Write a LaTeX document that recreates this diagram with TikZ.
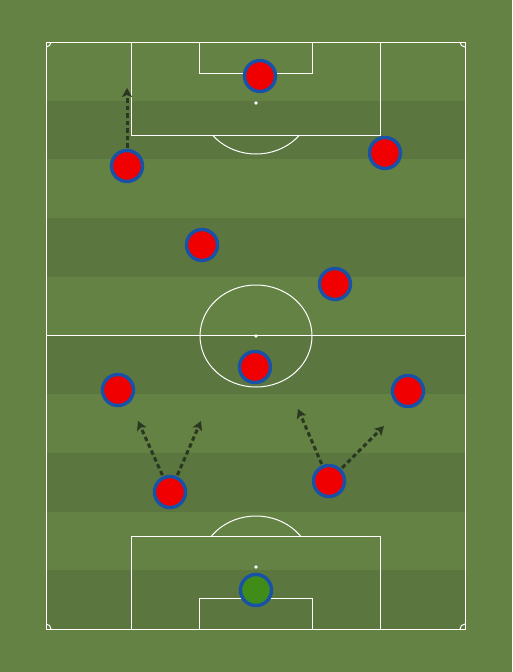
\documentclass[tikz,border=0pt]{standalone}
\usetikzlibrary{arrows.meta,positioning,shadows}
\definecolor{grass}{RGB}{100,130,68}
\definecolor{grassdark}{RGB}{91,118,63}
\definecolor{shirt}{RGB}{240,0,0}
\definecolor{ring}{RGB}{24,82,168}
\definecolor{keeper}{RGB}{64,140,24}
\definecolor{runline}{RGB}{42,56,34}

\begin{document}
\begin{tikzpicture}[x=1pt, y=-1pt,
    player/.style={circle, draw=ring, line width=3.4pt, fill=shirt,
        minimum size=31pt, inner sep=0pt, outer sep=3pt,
        drop shadow={opacity=0.25, shadow xshift=0.8pt, shadow yshift=-0.8pt}},
    pline/.style={white, line width=1pt},
    run/.style={runline, line width=3pt, dash pattern=on 4.5pt off 3pt,
        -{Stealth[length=9pt, width=10pt, inset=2pt]}}]
    % Grass and stripes
    \fill[grass] (0,0) rectangle (512,672);
    \foreach \i in {1,3,5,7,9}
        \fill[grassdark] (46,{42+\i*58.7}) rectangle (465,{42+(\i+1)*58.7});

    % Pitch markings
    \draw[pline] (46,42) rectangle (465,629);
    \draw[pline] (46,335.5) -- (465,335.5);
    \draw[pline] (256,336) ellipse [x radius=56, y radius=51];
    \fill[white] (256,336) circle (1.8);

    % Top boxes
    \draw[pline] (131,42) -- (131,135) -- (380,135) -- (380,42);
    \draw[pline] (199,42) -- (199,73) -- (312,73) -- (312,42);
    \fill[white] (256,103) circle (1.8);
    \begin{scope}
        \clip (131,135) rectangle (380,200);
        \draw[pline] (256,103) ellipse [x radius=56, y radius=51];
    \end{scope}

    % Bottom boxes
    \draw[pline] (131,629) -- (131,536) -- (380,536) -- (380,629);
    \draw[pline] (199,629) -- (199,598) -- (312,598) -- (312,629);
    \fill[white] (256,567) circle (1.8);
    \begin{scope}
        \clip (131,470) rectangle (380,536);
        \draw[pline] (256,567) ellipse [x radius=56, y radius=51];
    \end{scope}

    % Corner arcs
    \begin{scope}
        \clip (46,42) rectangle (465,629);
        \foreach \cx/\cy in {46/42, 465/42, 46/629, 465/629}
            \draw[pline] (\cx,\cy) circle (5);
    \end{scope}

    % Players
    \node[player] (fwd) at (260,76) {};
    \node[player] (rw) at (385,153) {};
    \node[player] (lw) at (127,166) {};
    \node[player] (lam) at (202,245) {};
    \node[player] (ram) at (335,284) {};
    \node[player] (dm) at (255,367) {};
    \node[player] (lb) at (118,390) {};
    \node[player] (rb) at (408,391) {};
    \node[player] (lcb) at (170,492) {};
    \node[player] (rcb) at (329,481) {};
    \node[player, fill=keeper] (gk) at (256,590) {};

    % Runs
    \coordinate (lwrun) at (127,88);
    \coordinate (lcbrunl) at (138,421);
    \coordinate (lcbrunr) at (201,421);
    \coordinate (rcbrunl) at (298,409);
    \coordinate (rcbrunr) at (384,426);
    \draw[run] (lw) -- (lwrun);
    \draw[run] (lcb) -- (lcbrunl);
    \draw[run] (lcb) -- (lcbrunr);
    \draw[run] (rcb) -- (rcbrunl);
    \draw[run] (rcb) -- (rcbrunr);
\end{tikzpicture}
\end{document}
